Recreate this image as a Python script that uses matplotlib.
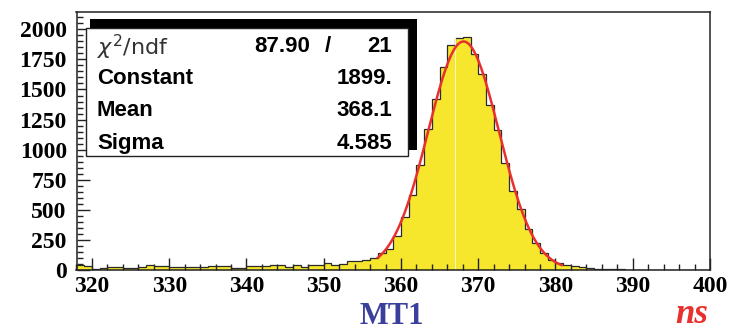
import numpy as np
import matplotlib
matplotlib.use("Agg")
import matplotlib.pyplot as plt
from matplotlib.patches import Rectangle
from matplotlib.ticker import MultipleLocator

# ---- data ----
bin_edges = np.arange(318, 401, 1)  # 1 ns bins, 318..400
counts = [
    45, 30, 10, 20, 25, 25, 15, 15, 25, 40,     # 318-327
    30, 30, 28, 25, 22, 22, 28, 32, 35, 36,     # 328-337
    17, 17, 36, 36, 36, 44, 44, 25, 44, 28,     # 338-347
    44, 44, 55, 44, 50, 78, 72, 80, 97, 138,    # 348-357
    175, 286, 438, 625, 869, 1175, 1417, 1688, 1869, 1925,  # 358-367
    1933, 1794, 1628, 1369, 1161, 888, 655, 508, 342, 225,  # 368-377
    140, 85, 60, 45, 35, 25, 15, 12, 10, 5,     # 378-387
    5, 3, 2, 1, 1, 1, 0, 1, 0, 0,               # 388-397
    0, 0,                                        # 398-399
]
fit_constant = 1899.0
fit_mean = 368.1
fit_sigma = 4.585
fit_range = [357.0, 380.8]
chi2, ndf = 87.90, 21
artifact_x = 367.0

x_ticks = [320, 330, 340, 350, 360, 370, 380, 390, 400]
y_ticks = [0, 250, 500, 750, 1000, 1250, 1500, 1750, 2000]

# ---- figure ----
W, H = 733, 331
fig = plt.figure(figsize=(W / 100, H / 100), dpi=100)
ax = fig.add_axes([76.5 / W, 1 - 270 / H, (710 - 76.5) / W, (270 - 12) / H])

ax.stairs(counts, bin_edges, fill=True, color="#f6e62c", zorder=1)
ax.stairs(counts, bin_edges, fill=False, color="#2a2a2a", linewidth=0.9, zorder=2)

idx = int(artifact_x - bin_edges[0])
ax.plot([artifact_x, artifact_x], [0, counts[idx]], color="#fbf6c8", linewidth=0.8, zorder=2)

xf = np.linspace(fit_range[0], fit_range[1], 300)
yf = fit_constant * np.exp(-0.5 * ((xf - fit_mean) / fit_sigma) ** 2)
ax.plot(xf, yf, color="#e8312f", linewidth=1.8, zorder=3)

ax.set_xlim(318, 400)
ax.set_ylim(0, 2144)
ax.set_xticks(x_ticks)
ax.set_yticks(y_ticks)
ax.xaxis.set_minor_locator(MultipleLocator(2))
ax.yaxis.set_minor_locator(MultipleLocator(50))
ax.tick_params(which="both", direction="in", top=False, right=False, width=1.0, color="#222222")
ax.tick_params(which="major", length=9)
ax.tick_params(which="minor", length=4.5)
ax.tick_params(axis="y", pad=7)
ax.tick_params(axis="x", pad=4)
for spine in ax.spines.values():
    spine.set_linewidth(1.1)
    spine.set_color("#222222")

tick_font = dict(family="Liberation Serif", weight="bold", size=17)
ax.set_xticklabels([str(v) for v in x_ticks], fontdict=tick_font)
ax.set_yticklabels([str(v) for v in y_ticks], fontdict=tick_font)

# ---- stats box (ROOT style) ----
def fx(px):
    return px / W

def fy(py):
    return 1 - py / H

shadow = Rectangle((fx(90), fy(150)), fx(417) - fx(90), fy(19) - fy(150),
                   transform=fig.transFigure, facecolor="black", edgecolor="none", zorder=5)
box = Rectangle((fx(86), fy(156)), fx(408) - fx(86), fy(28) - fy(156),
                transform=fig.transFigure, facecolor="white", edgecolor="#222222",
                linewidth=1.0, zorder=6)
fig.patches.extend([shadow, box])

stat_font = dict(family="Liberation Sans", weight="bold", size=16)
rows_y = [47, 78, 111, 144]
fig.text(fx(97), fy(rows_y[0]), r"$\chi^{2}$/ndf", ha="left", va="center",
         family="DejaVu Sans", fontsize=16, weight="normal", color="#333333", zorder=7)
fig.text(fx(310), fy(rows_y[0]), f"{chi2:.2f}", ha="right", va="center", zorder=7, **stat_font)
fig.text(fx(328), fy(rows_y[0]), "/", ha="center", va="center", zorder=7, **stat_font)
fig.text(fx(392), fy(rows_y[0]), f"{ndf}", ha="right", va="center", zorder=7, **stat_font)

labels = ["Constant", "Mean", "Sigma"]
values = [f"{fit_constant:.0f}.", f"{fit_mean:.1f}", f"{fit_sigma:.3f}"]
for lab, val, yy in zip(labels, values, rows_y[1:]):
    fig.text(fx(97), fy(yy), lab, ha="left", va="center", zorder=7, **stat_font)
    fig.text(fx(392), fy(yy), val, ha="right", va="center", zorder=7, **stat_font)

# ---- axis titles ----
fig.text(fx(392), fy(323.5), "MT1", ha="center", va="baseline", family="Liberation Serif",
         weight="bold", fontsize=22, color="#3b3f9c")
fig.text(fx(708), fy(323), "ns", ha="right", va="baseline", family="Liberation Serif",
         weight="bold", style="italic", fontsize=25, color="#e8302f")

fig.savefig("out.png", dpi=100)
